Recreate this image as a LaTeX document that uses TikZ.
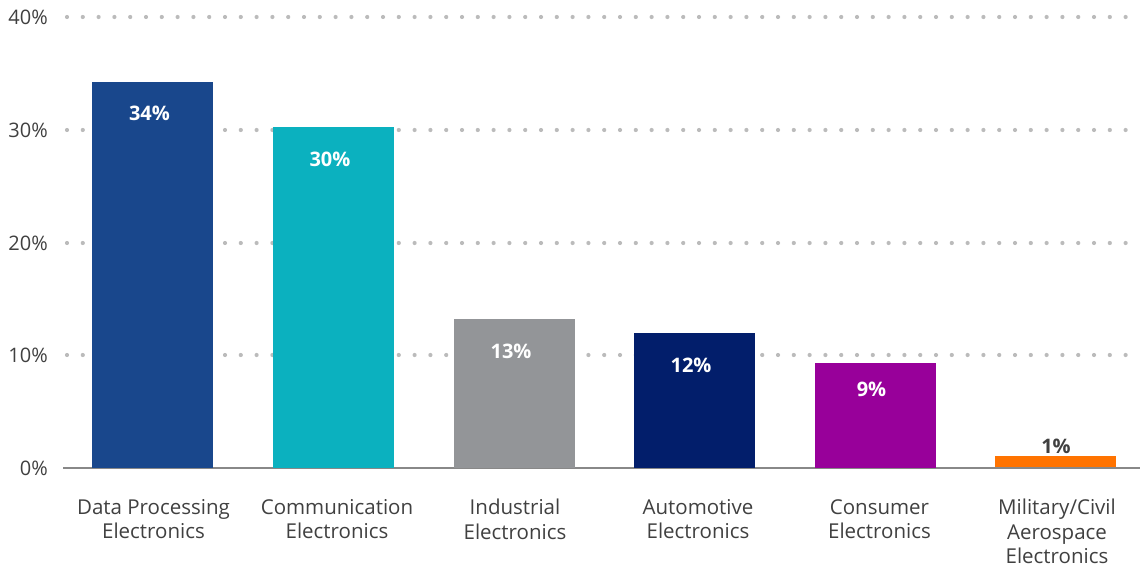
\documentclass[tikz,border=0pt]{standalone}
\usepackage{fontspec}
\setmainfont{Open Sans}
\definecolor{txt}{HTML}{404040}
\definecolor{dotc}{HTML}{BBBBBB}
\definecolor{axisc}{HTML}{888888}
\definecolor{cA}{HTML}{19478C}
\definecolor{cB}{HTML}{0BB1BF}
\definecolor{cC}{HTML}{939598}
\definecolor{cD}{HTML}{021E6B}
\definecolor{cE}{HTML}{98009A}
\definecolor{cF}{HTML}{FF7300}
\begin{document}
\begin{tikzpicture}[x=1pt,y=-1pt,
  ylab/.style={anchor=east,font=\fontsize{20}{22}\selectfont,text=txt,inner sep=0pt},
  vlab/.style={font=\bfseries\fontsize{20}{22}\selectfont,text=white,inner sep=0pt},
  catlab/.style={anchor=north,align=center,font=\fontsize{20.5}{24.5}\selectfont,text=txt,inner sep=0pt},
  grid/.style={dotc,line width=4.2pt,line cap=round,dash pattern=on 0pt off 15.8pt}]
\useasboundingbox (0,0) rectangle (1140,567);
% grid lines
\foreach \yy in {17,130,243,355} {\draw[grid] (67,\yy) -- (1140,\yy);}
% baseline
\coordinate (bl) at (63,468);
\coordinate (br) at (1140,468);
\draw[axisc,line width=1.5pt] (bl) -- (br);
% y labels
\node[ylab] (y40) at (48,17) {40\%};
\node[ylab] (y30) at (48,130) {30\%};
\node[ylab] (y20) at (48,243) {20\%};
\node[ylab] (y10) at (48,355) {10\%};
\node[ylab] (y0) at (48,468) {0\%};
% bars
\fill[cA] (92,82) rectangle (213,468);
\fill[cB] (273,127) rectangle (394,468);
\fill[cC] (454,319) rectangle (575,468);
\fill[cD] (634,333) rectangle (755,468);
\fill[cE] (815,363) rectangle (936,468);
\fill[cF] (995,456) rectangle (1116,467.3);
% value labels
\node[vlab] (v1) at (149.5,113.5) {34\%};
\node[vlab] (v2) at (330,159.5) {30\%};
\node[vlab] (v3) at (511,351.5) {13\%};
\node[vlab] (v4) at (691,365.5) {12\%};
\node[vlab] (v5) at (871.5,389.5) {9\%};
\node[vlab,text=txt] (v6) at (1056,446) {1\%};
% category labels
\node[catlab] (c1) at (153.5,499) {Data Processing\\Electronics};
\node[catlab] (c2) at (337,499) {Communication\\Electronics};
\node[catlab] (c3) at (515,499) {Industrial\\Electronics};
\node[catlab] (c4) at (698,499) {Automotive\\Electronics};
\node[catlab] (c5) at (879.5,499) {Consumer\\Electronics};
\node[catlab] (c6) at (1057,499) {Military/Civil\\Aerospace\\Electronics};
\end{tikzpicture}
\end{document}
